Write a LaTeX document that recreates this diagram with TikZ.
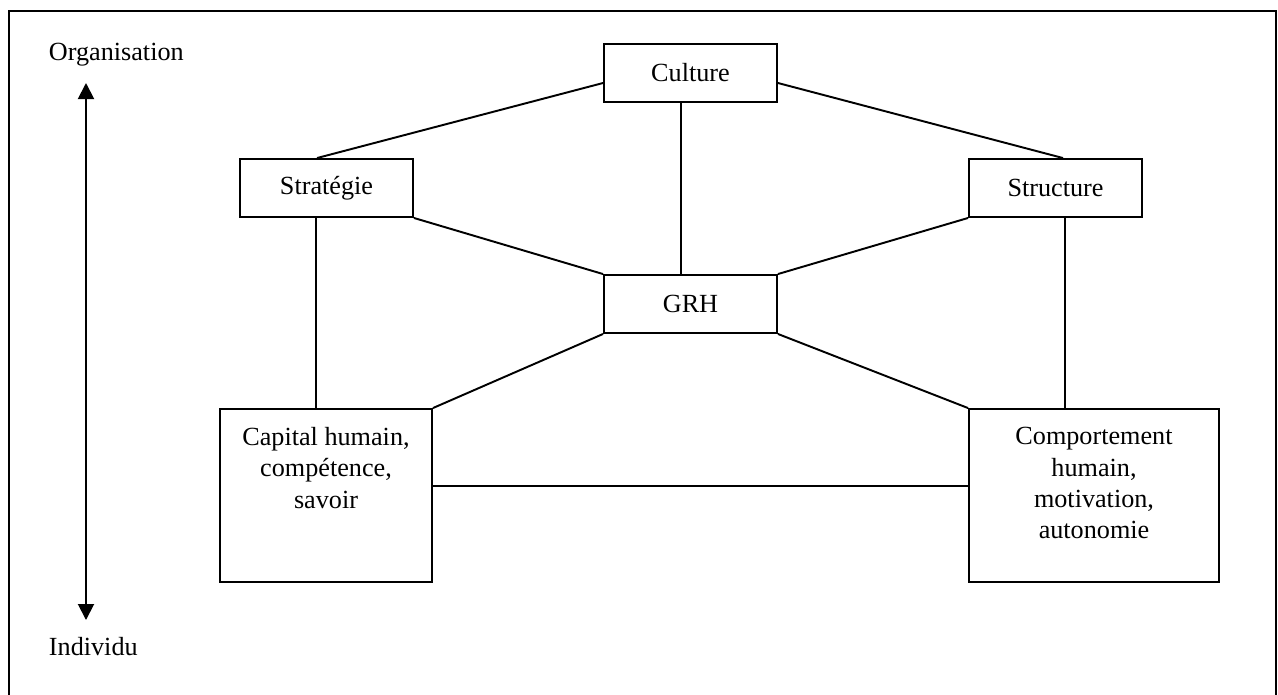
\documentclass[tikz,border=0pt]{standalone}
\usepackage{fontspec}
\setmainfont{Liberation Serif}
\usepackage{tikz}
\usetikzlibrary{arrows.meta}

\begin{document}
\begin{tikzpicture}[x=0.02cm, y=-0.02cm, >={Triangle[length=0.32cm, width=0.32cm]},
	line width=1.1pt, font=\fontsize{14.9pt}{17.8pt}\selectfont,
	box/.style={draw, minimum width=3.46cm, minimum height=1.16cm, inner sep=0pt},
	bigbox/.style={draw, minimum height=3.46cm, inner sep=0pt},
	boxtext/.style={anchor=north, align=center, inner sep=0pt}]
			\useasboundingbox (0,0) rectangle (1278,694);
			% frame
			\draw (9,700) -- (9,11) -- (1276,11) -- (1276,700);
			% axis
			\coordinate (orgtip) at (86,83);
			\coordinate (indtip) at (86,620);
			\draw[<->] (orgtip) -- (indtip);
			\node[anchor=base west, inner sep=0pt] (org) at (48,60) {Organisation};
			\node[anchor=base west, inner sep=0pt] (ind) at (48,655) {Individu};
			% boxes
			\node[box] (culture) at (690.5,73) {Culture};
			\node[box] (strat) at (326.5,188) {Stratégie};
			\node[box] (struct) at (1055.5,188) {Structure};
			\node[box] (grh) at (690.5,304) {GRH};
			\node[bigbox, minimum width=4.24cm] (cap) at (326,495.5) {};
			\node[boxtext] (captext) at ([yshift=-0.37cm]cap.north) {Capital humain,\\compétence,\\savoir};
			\node[bigbox, minimum width=5cm] (comp) at (1094,495.5) {};
			\node[boxtext] (comptext) at ([yshift=-0.37cm]comp.north) {Comportement\\humain,\\motivation,\\autonomie};
			% links
			\draw ([yshift=-0.2cm]culture.west) -- ([xshift=-0.19cm]strat.north);
			\draw ([yshift=-0.2cm]culture.east) -- ([xshift=0.15cm]struct.north);
			\draw ([xshift=-0.19cm]culture.south) -- ([xshift=-0.19cm]grh.north);
			\draw (strat.south east) -- (grh.north west);
			\draw (struct.south west) -- (grh.north east);
			\draw ([xshift=-0.21cm]strat.south) -- ([xshift=-0.21cm]strat.south |- cap.north);
			\draw ([xshift=0.19cm]struct.south) -- ([xshift=0.19cm]struct.south |- comp.north);
			\draw (grh.south west) -- (cap.north east);
			\draw (grh.south east) -- (comp.north west);
			\draw ([yshift=0.19cm]cap.east) -- ([yshift=0.19cm]cap.east -| comp.west);
		\end{tikzpicture}
\end{document}
